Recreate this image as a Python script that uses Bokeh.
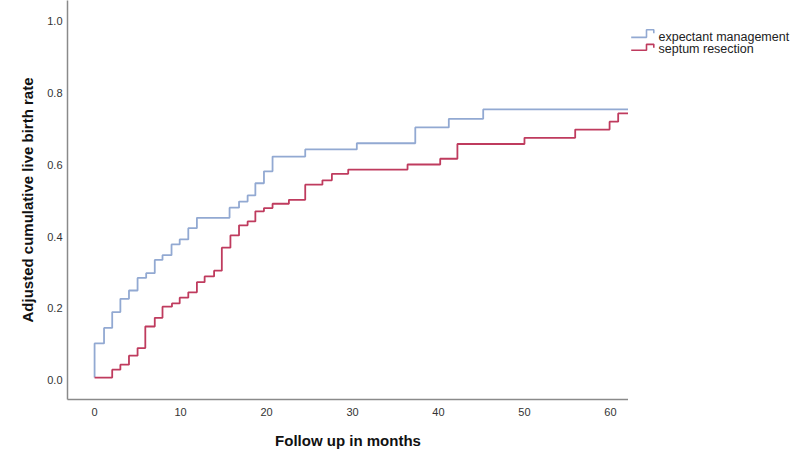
from bokeh.plotting import figure
from bokeh.models import Range1d, FixedTicker, NumeralTickFormatter
from bokeh.layouts import row
from bokeh.core.properties import value
from bokeh.embed import file_html
from bokeh.resources import INLINE

# ---- data ----
series_names = ["expectant management", "septum resection"]

expectant_months = [0, 0, 1.1, 2.05, 3.0, 4.0, 5.0, 6.0, 7.0, 7.9, 8.95, 9.9, 10.9, 11.9,
                    15.7, 16.8, 17.8, 18.7, 19.7, 20.7, 24.5, 30.5, 37.3, 41.2, 45.2, 62.1]
expectant_rate = [0.008, 0.103, 0.146, 0.19, 0.227, 0.25, 0.285, 0.298, 0.335, 0.348, 0.378,
                  0.392, 0.423, 0.452, 0.48, 0.497, 0.514, 0.548, 0.581, 0.622, 0.642, 0.659,
                  0.703, 0.727, 0.753, 0.753]

resection_months = [0, 2.05, 3.0, 4.0, 5.0, 5.9, 7.0, 7.9, 9.0, 9.9, 10.9, 11.9, 12.8, 13.9,
                    14.8, 15.8, 16.8, 17.8, 18.7, 19.7, 20.7, 22.6, 24.5, 26.5, 27.6, 29.5,
                    36.4, 40.2, 42.2, 50.0, 55.9, 59.9, 60.9, 62.1]
resection_rate = [0.008, 0.03, 0.044, 0.069, 0.09, 0.15, 0.174, 0.205, 0.214, 0.23, 0.245,
                  0.273, 0.289, 0.305, 0.369, 0.403, 0.431, 0.442, 0.47, 0.479, 0.491, 0.502,
                  0.544, 0.556, 0.574, 0.586, 0.6, 0.616, 0.657, 0.674, 0.697, 0.719, 0.742,
                  0.742]

x_ticks = [0, 10, 20, 30, 40, 50, 60]
y_ticks = [0.0, 0.2, 0.4, 0.6, 0.8, 1.0]
x_title = "Follow up in months"
y_title = "Adjusted cumulative live birth rate"

BLUE = "#92a9d2"
RED = "#bf3b5e"
FONT = "Liberation Sans"

# ---- main plot ----
p = figure(width=628, height=455, output_backend="svg", toolbar_location=None,
           x_range=Range1d(-3.15, 62.1), y_range=Range1d(-0.0528, 1.0556),
           min_border_left=67, min_border_right=0, min_border_top=0, min_border_bottom=56)
p.outline_line_color = None
p.xgrid.visible = False
p.ygrid.visible = False
p.background_fill_color = "white"
p.border_fill_color = "white"

p.step(expectant_months, expectant_rate, mode="after", line_color=BLUE, line_width=1.8)
p.step(resection_months, resection_rate, mode="after", line_color=RED, line_width=1.8)

for ax in (p.xaxis[0], p.yaxis[0]):
    ax.axis_line_color = "#8a8a8a"
    ax.axis_line_width = 1.5
    ax.major_tick_line_color = None
    ax.minor_tick_line_color = None
    ax.major_tick_out = 0
    ax.major_tick_in = 0
    ax.major_label_text_font = FONT
    ax.major_label_text_font_size = "11px"
    ax.major_label_text_color = "#333333"
    ax.axis_label_text_font = FONT
    ax.axis_label_text_font_size = "15px"
    ax.axis_label_text_font_style = "bold"
    ax.axis_label_text_color = "#111111"

p.xaxis[0].ticker = FixedTicker(ticks=x_ticks)
p.yaxis[0].ticker = FixedTicker(ticks=y_ticks)
p.yaxis[0].formatter = NumeralTickFormatter(format="0.0")
p.xaxis[0].axis_label = x_title
p.yaxis[0].axis_label = y_title
p.xaxis[0].major_label_standoff = 8
p.yaxis[0].major_label_standoff = 5
p.xaxis[0].axis_label_standoff = 13
p.yaxis[0].axis_label_standoff = 8

# ---- legend panel (pixel coordinates, y down) ----
leg = figure(width=172, height=455, output_backend="svg", toolbar_location=None,
             x_range=Range1d(0, 172), y_range=Range1d(455, 0),
             x_axis_type=None, y_axis_type=None,
             min_border_left=0, min_border_right=0, min_border_top=0, min_border_bottom=0)
leg.outline_line_color = None
leg.xgrid.visible = False
leg.ygrid.visible = False

# (colour, low y, high y, text y) in panel pixels
icon_specs = [(BLUE, 42.0, 33.3, 42.0), (RED, 56.7, 50.0, 55.8)]
for (color, low, high, ty), name in zip(icon_specs, series_names):
    leg.line([2.7, 18, 18, 25.3, 25.3], [low, low, high, high, high + 4],
             line_color=color, line_width=1.6)
    leg.text([30], [ty], text=[name], text_font=value(FONT), text_font_size="12.5px",
             text_color="#222222", text_baseline="middle", text_align="left")

layout = row(p, leg)
open("out.html", "w").write(file_html(layout, INLINE))
